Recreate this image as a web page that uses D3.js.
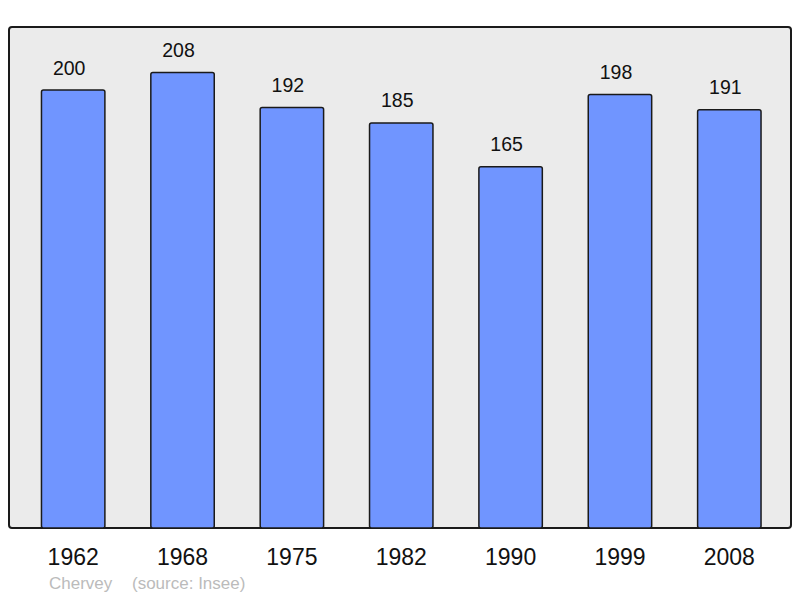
<!DOCTYPE html>
<html><head><meta charset="utf-8">
<script src="https://cdn.jsdelivr.net/npm/d3@7"></script>
<style>body{margin:0;background:#fff}svg{display:block}</style>
</head><body>
<svg id="c" width="800" height="598"></svg>
<script>
const years = ["1962","1968","1975","1982","1990","1999","2008"];
const population = [200,208,192,185,165,198,191];
const commune = "Chervey";
const source = "(source: Insee)";

const svg = d3.select("#c");
const panel = {x0:9, y0:27, x1:791, y1:528};
svg.append("rect").attr("x",panel.x0).attr("y",panel.y0)
  .attr("width",panel.x1-panel.x0).attr("height",panel.y1-panel.y0)
  .attr("rx",3).attr("fill","#ebebeb").attr("stroke","#1a1a1a").attr("stroke-width",2);

const x = d3.scaleBand().domain(years).range([18.5,784]).paddingInner(0.42).paddingOuter(0.21);
const y = d3.scaleLinear().domain([0, d3.max(population)*1.1]).range([panel.y1, panel.y0]);

const g = svg.append("g");
g.selectAll("rect.bar").data(population).join("rect").attr("class","bar")
  .attr("x",(d,i)=>x(years[i])).attr("y",d=>y(d))
  .attr("width",x.bandwidth()).attr("height",d=>y(0)-y(d))
  .attr("rx",2).attr("fill","#7095ff").attr("stroke","#1a1a1a").attr("stroke-width",1.5);

g.selectAll("text.val").data(population).join("text").attr("class","val")
  .attr("x",(d,i)=>x(years[i])+x.bandwidth()/2-4).attr("y",d=>y(d)-15.5)
  .attr("text-anchor","middle").attr("font-family","Liberation Sans, Arial, sans-serif")
  .attr("font-size",19.5).attr("fill","#111").text(d=>d);

const axis = d3.axisBottom(x).tickSize(0).tickPadding(0);
const ax = svg.append("g").attr("transform",`translate(0,${panel.y1})`).call(axis);
ax.select(".domain").remove();
ax.selectAll("text").attr("font-family","Liberation Sans, Arial, sans-serif")
  .attr("font-size",23).attr("fill","#111").attr("dy",null).attr("y",37);

svg.append("text").attr("x",49).attr("y",589).attr("font-family","Liberation Sans, Arial, sans-serif")
  .attr("font-size",17).attr("fill","#bbbbbb").text(commune);
svg.append("text").attr("x",132).attr("y",589).attr("font-family","Liberation Sans, Arial, sans-serif")
  .attr("font-size",17).attr("fill","#bbbbbb").text(source);
</script>
</body></html>
